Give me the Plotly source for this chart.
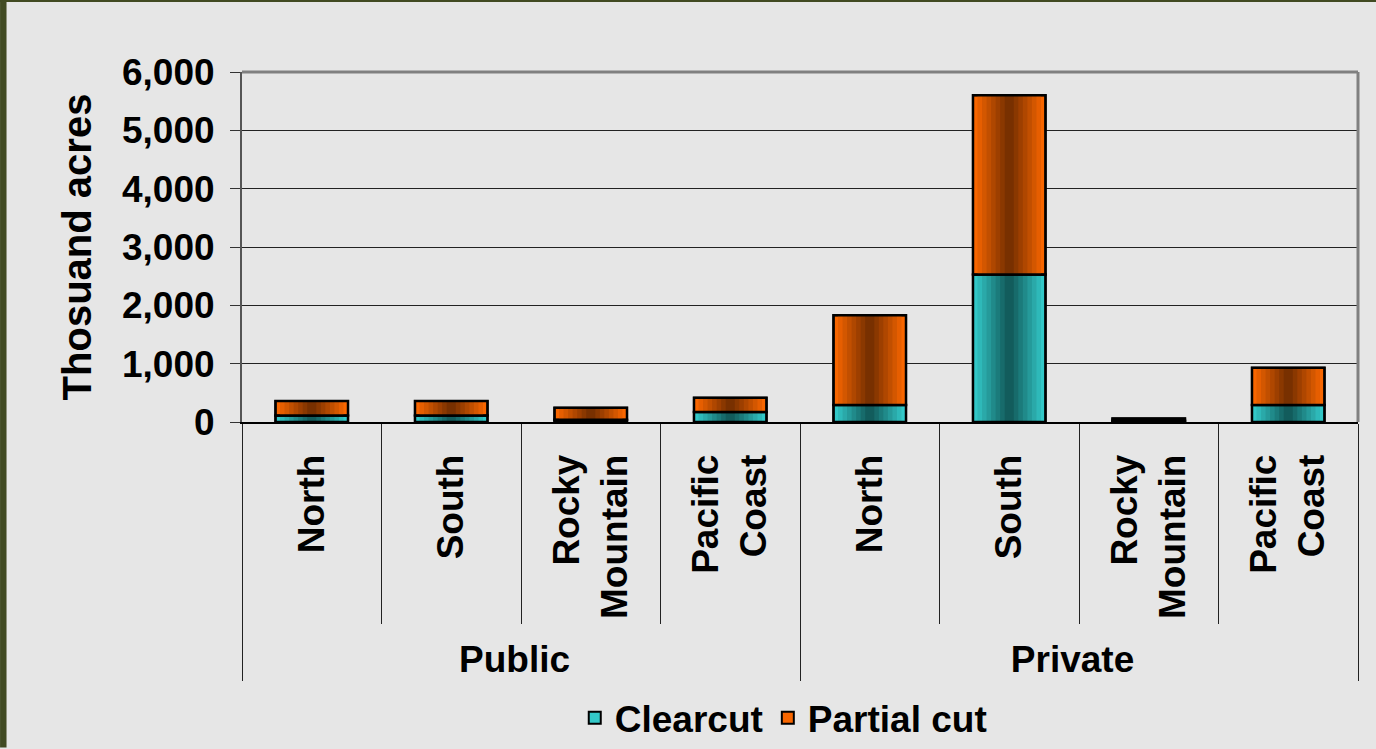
import plotly.graph_objects as go

# ---- data ----
ownership = ["Public", "Public", "Public", "Public", "Private", "Private", "Private", "Private"]
regions = ["North", "South", "Rocky<br>Mountain", "Pacific<br>Coast",
           "North", "South", "Rocky<br>Mountain", "Pacific<br>Coast"]
clearcut = [110, 110, 40, 170, 290, 2530, 20, 290]
partial_cut = [250, 250, 205, 245, 1540, 3070, 40, 640]
y_ticks = [0, 1000, 2000, 3000, 4000, 5000, 6000]

FONT = "Liberation Sans, Arial, sans-serif"
BAR_W = 0.52
N_LAYERS = 8


def blend(c1, c2, t):
    a = [int(c1[i:i + 2], 16) for i in (1, 3, 5)]
    b = [int(c2[i:i + 2], 16) for i in (1, 3, 5)]
    return "#" + "".join(f"{round(a[i] + (b[i] - a[i]) * t):02x}" for i in range(3))


x = [ownership, regions]
fig = go.Figure()

series = [
    ("Clearcut", clearcut, None, "#33c8c8", "#125c5c"),
    ("Partial cut", partial_cut, clearcut, "#f86600", "#783000"),
]

for name, vals, base, edge, center in series:
    for k in range(N_LAYERS):
        t = k / (N_LAYERS - 1)
        w = BAR_W * (1 - k / N_LAYERS)
        fig.add_trace(go.Bar(
            x=x, y=vals, base=base, name=name, width=w,
            marker=dict(color=blend(edge, center, t),
                        line=dict(color="black", width=2 if k == 0 else 0)),
            showlegend=(k == 0), legendgroup=name, hoverinfo="skip",
        ))
    # outline on top
    fig.add_trace(go.Bar(
        x=x, y=vals, base=base, width=BAR_W, showlegend=False, legendgroup=name,
        marker=dict(color="rgba(0,0,0,0)", line=dict(color="black", width=2.5)),
        name=name,
    ))

fig.update_layout(
    width=1376, height=749,
    barmode="overlay",
    paper_bgcolor="#e6e6e6",
    plot_bgcolor="#e6e6e6",
    margin=dict(l=242, r=18, t=72, b=327, autoexpand=False),
    font=dict(family=FONT, size=37, color="black", weight="bold"),
    showlegend=True,
    legend=dict(orientation="h", x=0.485, xanchor="center", y=-0.846, yanchor="middle",
                bgcolor="rgba(0,0,0,0)", font=dict(size=37, family=FONT, weight="bold"),
                traceorder="normal"),
    xaxis=dict(
        type="multicategory",
        automargin=False,
        tickangle=-90,
        showline=True, linecolor="black", linewidth=1.5,
        ticks="outside", tickson="boundaries", ticklen=200, tickcolor="#222", tickwidth=1,
        showdividers=True, dividercolor="#222", dividerwidth=1,
        tickfont=dict(size=37, family=FONT, weight="bold"),
        ticklabelstandoff=16,
        showgrid=False,
    ),
    yaxis=dict(
        automargin=False,
        range=[0, 6000], tickvals=y_ticks, tickformat=",",
        ticks="outside", ticklen=10, tickcolor="#333",
        showline=True, linecolor="#555", linewidth=2,
        showgrid=True, gridcolor="#222", gridwidth=1,
        zeroline=False,
        tickfont=dict(size=37, family=FONT, weight="bold"),
        ticklabelstandoff=8,
        title=dict(text="Thosuand acres", font=dict(size=40, family=FONT, weight="bold"), standoff=18),
    ),
    shapes=[
        dict(type="line", xref="x domain", yref="y domain", x0=0, x1=1, y0=1, y1=1,
             line=dict(color="#808080", width=3)),
        dict(type="line", xref="x domain", yref="y domain", x0=1, x1=1, y0=0, y1=1,
             line=dict(color="#808080", width=3)),
        dict(type="rect", xref="paper", yref="paper", x0=-0.2168, x1=-0.2110, y0=-0.93, y1=1.22,
             line=dict(width=0), fillcolor="#414a22", layer="above"),
        dict(type="rect", xref="paper", yref="paper", x0=-0.2168, x1=1.02, y0=1.2, y1=1.22,
             line=dict(width=0), fillcolor="#414a22", layer="above"),
    ],
)

fig.write_html("out.html")
